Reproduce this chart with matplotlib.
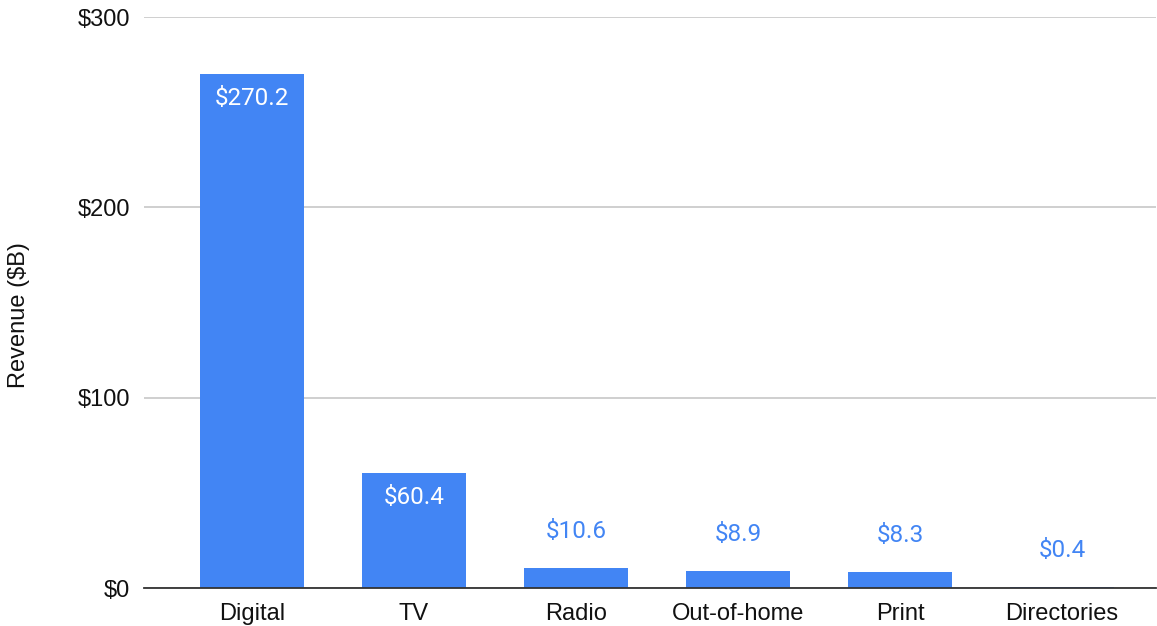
import matplotlib.pyplot as plt
import numpy as np

# Ad revenue by channel, in billions of dollars
channels = ['Digital', 'TV', 'Radio', 'Out-of-home', 'Print', 'Directories']
revenue = [270.2, 60.4, 10.6, 8.9, 8.3, 0.4]
y_ticks = [0, 100, 200, 300]
y_tick_labels = ['$0', '$100', '$200', '$300']

blue = '#4285F4'

fig = plt.figure(figsize=(11.57, 6.26), dpi=100)
ax = fig.add_axes([0.1245, 0.0607, 0.8745, 0.9121])

x = np.arange(len(channels))
bars = ax.bar(x, revenue, width=0.642, color=blue, zorder=2)

# values go inside tall bars, above short ones
for rect, val in zip(bars, revenue):
    cx = rect.get_x() + rect.get_width() / 2
    label = f'${val:.1f}'
    if val > 30:
        ax.annotate(label, (cx, val), xytext=(0, -9.5), textcoords='offset points',
                    ha='center', va='top', color='white', fontsize=17.5,
                    family='Roboto', zorder=3)
    else:
        ax.annotate(label, (cx, val), xytext=(0, 18), textcoords='offset points',
                    ha='center', va='bottom', color=blue, fontsize=17.5,
                    family='Roboto', zorder=3)

ax.set_xlim(-0.667, 5.58)
ax.set_ylim(0, 300)
ax.set_yticks(y_ticks)
ax.set_yticklabels(y_tick_labels)
ax.set_xticks(x)
ax.set_xticklabels(channels)

ax.tick_params(axis='both', length=0, labelsize=17, labelcolor='#111111')
ax.tick_params(axis='y', pad=10)
ax.tick_params(axis='x', pad=11)
for lbl in ax.get_xticklabels() + ax.get_yticklabels():
    lbl.set_family('Liberation Sans')

ax.grid(axis='y', color='#cccccc', linewidth=1.3, zorder=0)
for side in ['top', 'right', 'left']:
    ax.spines[side].set_visible(False)
ax.spines['bottom'].set_color('#333333')
ax.spines['bottom'].set_linewidth(1.3)
ax.spines['bottom'].set_zorder(4)

ax.set_ylabel('Revenue ($B)', fontsize=17, family='Liberation Sans', color='#111111')
ax.yaxis.set_label_coords(-0.113, 0.478)

fig.savefig('out.png', dpi=100)
